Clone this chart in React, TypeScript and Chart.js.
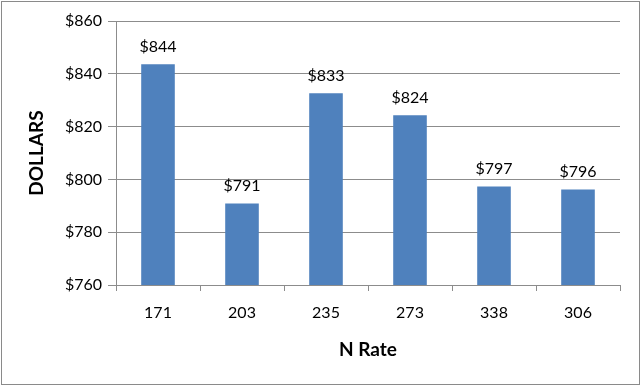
import React, { useEffect, useRef } from "react";
import { Chart, registerables } from "chart.js";

Chart.register(...registerables);

const categories = ["171", "203", "235", "273", "338", "306"];
const dollars = [843.6, 790.9, 832.6, 824.3, 797.3, 796.2];
const yMin = 760;
const yMax = 860;
const yStep = 20;
const xTitle = "N Rate";
const yTitle = "DOLLARS";

const FONT = "Lato, 'Open Sans', sans-serif";
const GRID = "#8c8c8c";

const valueLabels = {
  id: "valueLabels",
  afterDatasetsDraw(chart: any) {
    const ctx = chart.ctx;
    const meta = chart.getDatasetMeta(0);
    ctx.save();
    ctx.font = `16px ${FONT}`;
    ctx.fillStyle = "#000";
    ctx.textAlign = "center";
    ctx.textBaseline = "alphabetic";
    meta.data.forEach((bar: any, i: number) => {
      const v = chart.data.datasets[0].data[i] as number;
      ctx.fillText("$" + Math.round(v), bar.x, bar.y - 12.5);
    });
    ctx.restore();
  },
};

export default function App() {
  const ref = useRef<HTMLCanvasElement>(null);
  useEffect(() => {
    document.body.style.margin = "0";
    const chart = new Chart(ref.current!, {
      type: "bar",
      data: {
        labels: categories,
        datasets: [
          {
            data: dollars,
            backgroundColor: "#4f81bd",
            borderWidth: 0,
            categoryPercentage: 1,
            barPercentage: 0.4,
          },
        ],
      },
      options: {
        animation: false,
        responsive: false,
        layout: { padding: { top: 21, right: 22, left: 0, bottom: 0 } },
        plugins: { legend: { display: false }, tooltip: { enabled: false } },
        scales: {
          x: {
            grid: {
              drawOnChartArea: false,
              drawTicks: true,
              tickLength: 6,
              color: GRID,
              offset: true,
            },
            border: { color: GRID, width: 1 },
            ticks: {
              color: "#000",
              padding: 12,
              font: { family: FONT, size: 16 },
            },
            title: {
              display: true,
              text: xTitle,
              color: "#000",
              font: { family: FONT, size: 19, weight: "bold" },
              padding: { top: 0, bottom: 25.6 },
            },
            afterFit(scale: any) {
              scale.height = 102;
            },
          },
          y: {
            min: yMin,
            max: yMax,
            grid: { color: GRID, tickLength: 8, lineWidth: 1 },
            border: { color: GRID, width: 1 },
            ticks: {
              stepSize: yStep,
              color: "#000",
              padding: 6,
              font: { family: FONT, size: 16 },
              callback: (v: any) => "$" + v,
            },
            title: {
              display: true,
              text: yTitle,
              color: "#000",
              font: { family: FONT, size: 19, weight: "bold" },
              padding: { top: 25, bottom: 0 },
            },
            afterFit(scale: any) {
              scale.width = 116;
            },
          },
        },
      },
      plugins: [valueLabels],
    });
    return () => chart.destroy();
  }, []);
  return (
    <div style={{ position: "relative", width: 642, height: 387, background: "#fff" }}>
      <canvas ref={ref} width={642} height={387} style={{ display: "block" }} />
      <div
        style={{
          position: "absolute",
          left: 1,
          top: 1,
          width: 637,
          height: 382,
          border: "1px solid #8a8a8a",
          pointerEvents: "none",
        }}
      />
    </div>
  );
}
